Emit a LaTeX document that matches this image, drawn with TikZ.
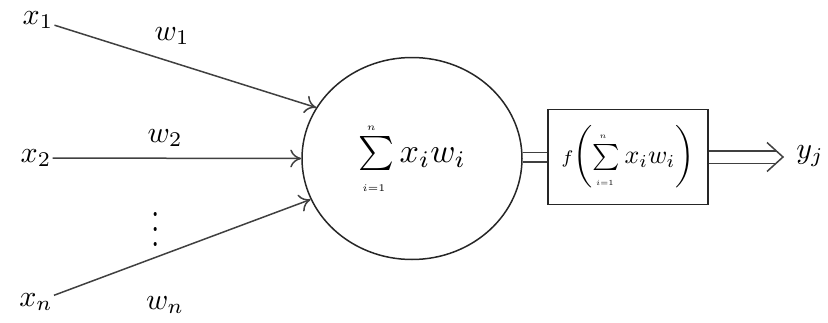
\documentclass[tikz,border=0pt]{standalone}
\usepackage{graphicx}
\usepackage{amsmath}
\usetikzlibrary{shapes.geometric,arrows.meta}
\newcommand{\bigmath}[2]{\scalebox{#1}{$#2$}}
\newcommand{\sumlim}[1]{\scalebox{0.6}{$\scriptscriptstyle #1$}}
\begin{document}
\begin{tikzpicture}[x=1pt, y=-1pt]
\tikzset{lbl/.style={inner sep=1pt}}
\tikzset{inedge/.style={-{To[length=11pt, width=18pt]}, line width=1.5pt, draw=black!75}}
\tikzset{dbl/.style={double, double distance=8pt, line width=1.5pt, draw=black!75}}
\useasboundingbox (0,0) rectangle (828,322);
% neuron and activation
\node (sum) [ellipse, draw=black!85, line width=1.5pt, minimum width=220pt, minimum height=202pt, inner sep=0pt]
  at (412,158.5) {\bigmath{3.4}{\sum\limits_{\sumlim{i=1}}^{\sumlim{n}}x_iw_i}\hspace{10pt}};
\node (act) [draw=black!85, line width=1.5pt, minimum width=160pt, minimum height=95pt, inner sep=0pt]
  at (628,157) {\bigmath{2.6}{{\scriptstyle f}\!\left(\sum\limits_{\sumlim{i=1}}^{\sumlim{n}}x_iw_i\right)}};
\node (yj) [lbl] at (810,156) {\bigmath{3}{y_j}};
\coordinate (tip) at (783,157);
% inputs
\node (x1) [lbl] at (38,20)  {\bigmath{3}{x_1}};
\node (x2) [lbl] at (36,158) {\bigmath{3}{x_2}};
\node (xn) [lbl] at (36,302) {\bigmath{3}{x_n}};
\node (dots) [lbl] at (156,218) {\scalebox{3}[3.8]{$\vdots$}};
% weights
\node (w1) [lbl] at (172,36)  {\bigmath{3}{w_1}};
\node (w2) [lbl] at (165,138) {\bigmath{3}{w_2}};
\node (wn) [lbl] at (165,305) {\bigmath{3}{w_n}};
% connections
\draw[inedge] (x1) -- (sum.152);
\draw[inedge] (x2) -- (sum.west);
\draw[inedge] (xn) -- (sum.202);
\draw[dbl] (sum.east |- act.west) -- (act.west);
% output: wide double line closed by an open chevron
\draw[dbl, double distance=11pt] (act.east |- tip) -- ([xshift=-7pt]tip);
\draw[line width=1.5pt, draw=black!75, line join=miter]
  ([shift={(-16pt,-14.5pt)}]tip) -- (tip) -- ([shift={(-16pt,14.5pt)}]tip);
\end{tikzpicture}
\end{document}
